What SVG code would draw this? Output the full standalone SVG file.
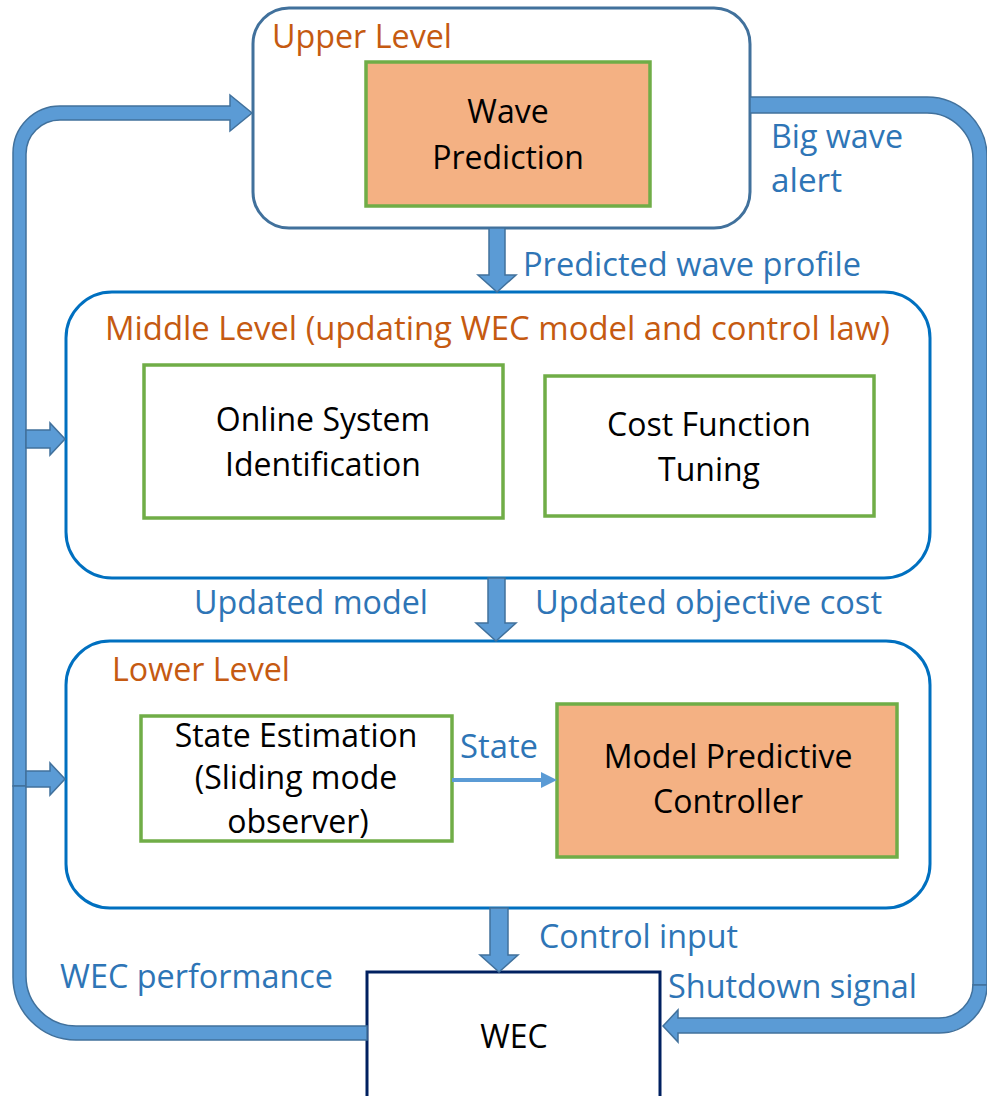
<svg xmlns="http://www.w3.org/2000/svg" width="987" height="1096" viewBox="0 0 987 1096">
  <style>
    .lvl-a { fill: #ffffff; stroke: #41719C; stroke-width: 3; }
    .lvl-b { fill: #ffffff; stroke: #0070C0; stroke-width: 3; }
    .blk { fill: #ffffff; stroke: #70AD47; stroke-width: 3.5; }
    .blk-hot { fill: #F4B183; stroke: #70AD47; stroke-width: 3.5; }
    .plant { fill: #ffffff; stroke: #002060; stroke-width: 3; }
    .band { fill: #5B9BD5; stroke: #41719C; stroke-width: 1.5; stroke-linejoin: miter; }
    text { font-family: "Open Sans", "Liberation Sans", sans-serif; font-size: 32px; }
    .ttl { fill: #C55A11; }
    .lbl { fill: #2E75B6; }
    .txt { fill: #000000; }
  </style>

  <!-- Upper level: wave prediction -->
  <g id="upper-level">
    <rect class="lvl-a" x="253" y="8" width="497" height="220" rx="36" ry="36"/>
    <text class="ttl" x="272" y="48" textLength="180" lengthAdjust="spacingAndGlyphs">Upper Level</text>
  </g>
  <g id="wave-prediction">
    <rect class="blk-hot" x="366" y="62" width="284" height="144"/>
    <text class="txt" x="508" y="123" text-anchor="middle">Wave</text>
    <text class="txt" x="508" y="169" text-anchor="middle">Prediction</text>
  </g>

  <!-- Middle level: model and control law update -->
  <g id="middle-level">
    <rect class="lvl-b" x="66" y="292" width="864" height="286" rx="46" ry="46"/>
    <text class="ttl" x="105" y="340" textLength="785" lengthAdjust="spacingAndGlyphs">Middle Level (updating WEC model and control law)</text>
  </g>
  <g id="online-sysid">
    <rect class="blk" x="144" y="365" width="359" height="153"/>
    <text class="txt" x="323" y="431" text-anchor="middle">Online System</text>
    <text class="txt" x="323" y="476" text-anchor="middle">Identification</text>
  </g>
  <g id="cost-tuning">
    <rect class="blk" x="545" y="376" width="329" height="140"/>
    <text class="txt" x="709" y="436" text-anchor="middle">Cost Function</text>
    <text class="txt" x="709" y="481" text-anchor="middle">Tuning</text>
  </g>

  <!-- Lower level: estimation and MPC -->
  <g id="lower-level">
    <rect class="lvl-b" x="66" y="641" width="864" height="267" rx="44" ry="44"/>
    <text class="ttl" x="112" y="681" textLength="178" lengthAdjust="spacingAndGlyphs">Lower Level</text>
  </g>
  <g id="state-estimation">
    <rect class="blk" x="141" y="716" width="311" height="125"/>
    <text class="txt" x="296" y="747" text-anchor="middle">State Estimation</text>
    <text class="txt" x="296" y="789" text-anchor="middle">(Sliding mode</text>
    <text class="txt" x="298" y="833" text-anchor="middle">observer)</text>
  </g>
  <g id="mpc">
    <rect class="blk-hot" x="557" y="704" width="340" height="153"/>
    <text class="txt" x="728" y="768" text-anchor="middle">Model Predictive</text>
    <text class="txt" x="728" y="813" text-anchor="middle">Controller</text>
  </g>

  <!-- Plant -->
  <g id="wec">
    <rect class="plant" x="367" y="972" width="293" height="140"/>
    <text class="txt" x="514" y="1048" text-anchor="middle">WEC</text>
  </g>

  <!-- Connectors -->
  <g id="connectors">
    <!-- level-to-level block arrows -->
    <path class="band" d="M489,228 L505,228 L505,275 L516,275 L497,292 L478,275 L489,275 Z"/>
    <path class="band" d="M488,578 L505,578 L505,623 L516,623 L496,641 L476,623 L488,623 Z"/>
    <path class="band" d="M490,908 L508,908 L508,955 L518,955 L499,972 L480,955 L490,955 Z"/>

    <!-- feedback loop, left side -->
    <path class="band" d="M13,786 L13,153 A47,47 0 0 1 60,106 L230,106 L230,95 L252,113 L230,131 L230,120 L60,120 A34,34 0 0 0 26,154 L26,786 Z"/>
    <path class="band" d="M13,786 L26,786 L26,976 A50,50 0 0 0 76,1026 L367,1026 L367,1040 L76,1040 A63,63 0 0 1 13,977 Z"/>
    <path class="band" d="M26,430 L50,430 L50,423 L65,439 L50,455 L50,448 L26,448 Z"/>
    <path class="band" d="M26,771 L50,771 L50,763 L65,779 L50,795 L50,787 L26,787 Z"/>

    <!-- alert / shutdown path, right side -->
    <path class="band" d="M750,97 L927,97 A60,60 0 0 1 987,157 L987,985 L973,985 L973,159 A46,46 0 0 0 927,113 L750,113 Z"/>
    <path class="band" d="M973,985 L987,985 A48,48 0 0 1 939,1033 L678,1033 L678,1042 L663,1026 L678,1010 L678,1018 L939,1018 A34,34 0 0 0 973,984 Z"/>

    <!-- state signal -->
    <line x1="452" y1="780" x2="543" y2="780" stroke="#5B9BD5" stroke-width="4"/>
    <path d="M541,772 L557,780 L541,788 Z" fill="#5B9BD5"/>

    <!-- signal labels -->
    <text class="lbl" x="771" y="148" textLength="132" lengthAdjust="spacingAndGlyphs">Big wave</text>
    <text class="lbl" x="771" y="192" textLength="71" lengthAdjust="spacingAndGlyphs">alert</text>
    <text class="lbl" x="523" y="276" textLength="338" lengthAdjust="spacingAndGlyphs">Predicted wave profile</text>
    <text class="lbl" x="194" y="614" textLength="234" lengthAdjust="spacingAndGlyphs">Updated model</text>
    <text class="lbl" x="535" y="614" textLength="347" lengthAdjust="spacingAndGlyphs">Updated objective cost</text>
    <text class="lbl" x="460" y="758" textLength="78" lengthAdjust="spacingAndGlyphs">State</text>
    <text class="lbl" x="539" y="948" textLength="199" lengthAdjust="spacingAndGlyphs">Control input</text>
    <text class="lbl" x="60" y="988" textLength="273" lengthAdjust="spacingAndGlyphs">WEC performance</text>
    <text class="lbl" x="668" y="998" textLength="249" lengthAdjust="spacingAndGlyphs">Shutdown signal</text>
  </g>
</svg>
